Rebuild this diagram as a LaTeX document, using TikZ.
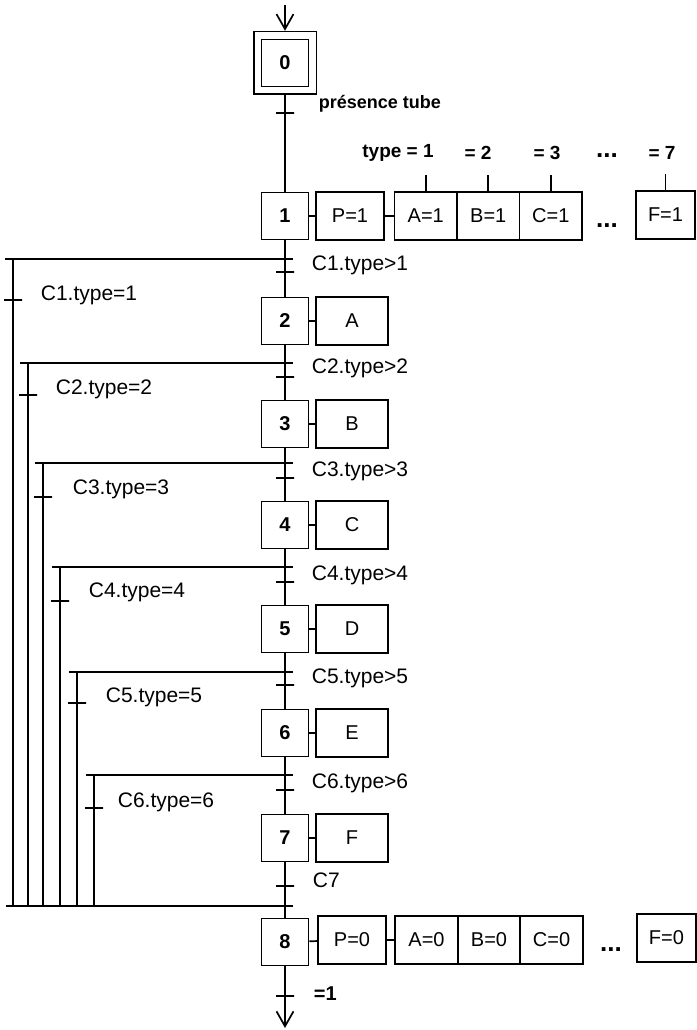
\documentclass[tikz,border=0pt]{standalone}
\usepackage{fontspec}
\setmainfont{Liberation Sans}
\usetikzlibrary{arrows.meta,fit}

\tikzset{
    every picture/.style={
        line width=1.7pt,
        >={Straight Barb[length=15pt,width=17pt]}
    },
    % steps and actions of the grafcet
    etape/.style={rectangle,draw,minimum width=47pt,minimum height=47pt,inner sep=0pt,font=\fontsize{20}{24}\selectfont\bfseries},
    action/.style={rectangle,draw,minimum width=72pt,minimum height=48pt,inner sep=0pt,font=\fontsize{20}{24}\selectfont},
    actionP/.style={action,minimum width=68pt},
    actionX/.style={action,minimum width=62.5pt},
    % transitions and their receptivities
    trans/.style={draw,minimum width=18pt,minimum height=0pt,inner sep=0pt,outer sep=0pt},
    cond/.style={anchor=west,inner sep=0pt,font=\fontsize{21}{24}\selectfont},
    titre/.style={inner sep=0pt,font=\fontsize{19}{22}\selectfont\bfseries},
    points/.style={inner sep=0pt,font=\fontsize{26}{28}\selectfont\bfseries}
}

\begin{document}
\begin{tikzpicture}[x=1pt,y=-1pt]
\useasboundingbox (0,0) rectangle (696,1030);

% Initial step
\coordinate (entree) at (285,5);
\node[etape] at (285,63) (e0) {0};
\node[draw,fit=(e0),inner sep=7pt] (e0ext) {};
\draw[->] (entree) -- (e0ext.north);
\node[trans] at (285,113) (t0) {};
\node[titre,anchor=west,font=\fontsize{18}{22}\selectfont\bfseries] at (318,104) (ct0) {présence tube};

% Step 1 and its actions
\node[etape] at (285,216) (e1) {1};
\node[actionP] at (350,216) (p1) {P=1};
\node[actionX] at (425.75,216) (a1) {A=1};
\node[actionX] at (488.25,216) (b1) {B=1};
\node[actionX] at (550.75,216) (c1) {C=1};
\node[points] at (607,226) (pts1) {...};
\node[action,minimum width=59pt] at (665.5,215) (f1) {F=1};
\draw (e0ext) -- (e1);
\draw (e1) -- (p1);
\draw (p1) -- (a1);

% type values
\node[titre] at (398,153) (ty1) {type = 1};
\node[titre] at (478,153) (ty2) {= 2};
\node[titre] at (547,153) (ty3) {= 3};
\node[points] at (607,156) (typts) {...};
\node[titre] at (662,153) (ty7) {= 7};
\draw (a1.north) -- ++(0,-16);
\draw (b1.north) -- ++(0,-16);
\draw (c1.north) -- ++(0,-16);
\draw (f1.north) -- ++(0,-16);

% Steps 2 to 7
\node[etape] at (285,321) (e2) {2};
\node[action] at (352,321) (a2) {A};
\node[etape] at (285,424) (e3) {3};
\node[action] at (352,424) (a3) {B};
\node[etape] at (285,525) (e4) {4};
\node[action] at (352,525) (a4) {C};
\node[etape] at (285,629) (e5) {5};
\node[action] at (352,629) (a5) {D};
\node[etape] at (285,733) (e6) {6};
\node[action] at (352,733) (a6) {E};
\node[etape] at (285,838) (e7) {7};
\node[action] at (352,838) (a7) {F};
\draw (e2) -- (a2);
\draw (e3) -- (a3);
\draw (e4) -- (a4);
\draw (e5) -- (a5);
\draw (e6) -- (a6);
\draw (e7) -- (a7);

% Step 8 and its actions
\node[etape] at (285,942) (e8) {8};
\node[actionP] at (352,940) (p8) {P=0};
\node[actionX] at (426.5,940) (a8) {A=0};
\node[actionX] at (489,940) (b8) {B=0};
\node[actionX] at (551.5,940) (c8) {C=0};
\node[points] at (611,950) (pts8) {...};
\node[action,minimum width=59pt] at (666.5,938) (f8) {F=0};
\draw (e8) -- (p8);
\draw (p8) -- (a8);

% Main axis transitions
\node[trans] at (285,272) (t1) {};
\node[trans] at (285,377) (t2) {};
\node[trans] at (285,478) (t3) {};
\node[trans] at (285,582) (t4) {};
\node[trans] at (285,685) (t5) {};
\node[trans] at (285,790) (t6) {};
\node[trans] at (285,886) (t7) {};
\node[cond] at (311,265) (ct1) {C1.type>1};
\node[cond] at (311,368) (ct2) {C2.type>2};
\node[cond] at (311,471) (ct3) {C3.type>3};
\node[cond] at (311,575) (ct4) {C4.type>4};
\node[cond] at (311,678) (ct5) {C5.type>5};
\node[cond] at (311,783) (ct6) {C6.type>6};
\node[cond] at (312,880) (ct7) {C7};
\draw (e1) -- (e2);
\draw (e2) -- (e3);
\draw (e3) -- (e4);
\draw (e4) -- (e5);
\draw (e5) -- (e6);
\draw (e6) -- (e7);
\draw (e7) -- (e8);

% Branches (divergence)
\coordinate (g1) at (5,259);   \coordinate (d1) at (293,259);
\coordinate (g2) at (20,363);  \coordinate (d2) at (293,363);
\coordinate (g3) at (35,463);  \coordinate (d3) at (293,463);
\coordinate (g4) at (52,567);  \coordinate (d4) at (293,567);
\coordinate (g5) at (69,672);  \coordinate (d5) at (293,672);
\coordinate (g6) at (86,775);  \coordinate (d6) at (293,775);
\draw (g1) -- (d1);
\draw (g2) -- (d2);
\draw (g3) -- (d3);
\draw (g4) -- (d4);
\draw (g5) -- (d5);
\draw (g6) -- (d6);

% Branch verticals down to the convergence
\coordinate (h1) at (13,259);  \coordinate (k1) at (13,906);
\coordinate (h2) at (28,363);  \coordinate (k2) at (28,906);
\coordinate (h3) at (43,463);  \coordinate (k3) at (43,906);
\coordinate (h4) at (60,567);  \coordinate (k4) at (60,906);
\coordinate (h5) at (77,672);  \coordinate (k5) at (77,906);
\coordinate (h6) at (94,775);  \coordinate (k6) at (94,906);
\draw (h1) -- (k1);
\draw (h2) -- (k2);
\draw (h3) -- (k3);
\draw (h4) -- (k4);
\draw (h5) -- (k5);
\draw (h6) -- (k6);
\node[trans] at (13,300) (tb1) {};
\node[trans] at (28,395) (tb2) {};
\node[trans] at (43,497) (tb3) {};
\node[trans] at (60,601) (tb4) {};
\node[trans] at (77,703) (tb5) {};
\node[trans] at (94,808) (tb6) {};
\node[cond] at (40,295) (cb1) {C1.type=1};
\node[cond] at (55,389) (cb2) {C2.type=2};
\node[cond] at (72,489) (cb3) {C3.type=3};
\node[cond] at (88,592) (cb4) {C4.type=4};
\node[cond] at (105,697) (cb5) {C5.type=5};
\node[cond] at (117,802) (cb6) {C6.type=6};

% Convergence
\coordinate (cg) at (6,906);
\coordinate (cd) at (293,906);
\draw (cg) -- (cd);

% Exit
\coordinate (sortie) at (285,1028);
\node[trans] at (285,996) (t8) {};
\node[cond,font=\fontsize{20}{24}\selectfont\bfseries] at (313,994) (ct8) {=1};
\draw[->] (e8) -- (sortie);

\end{tikzpicture}
\end{document}
